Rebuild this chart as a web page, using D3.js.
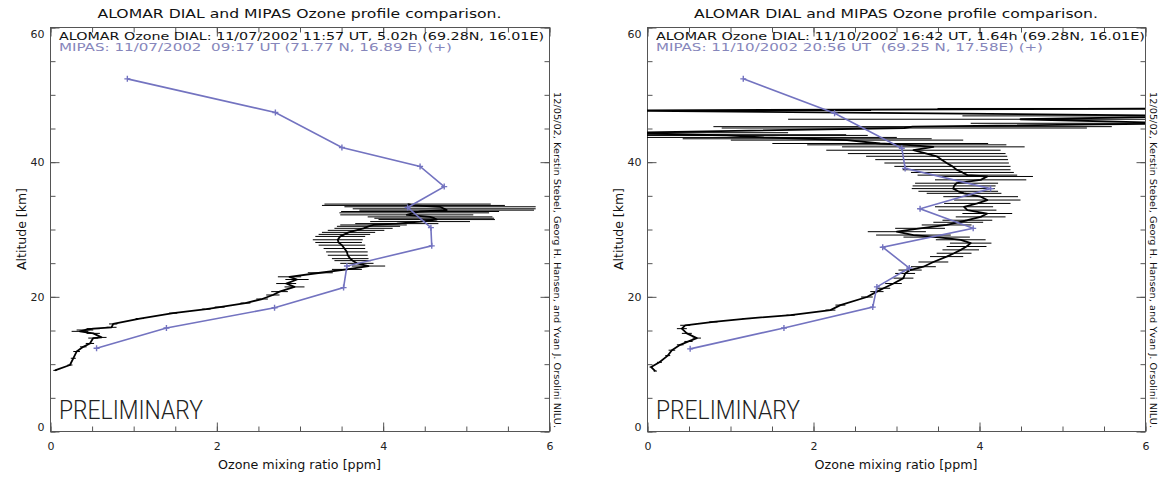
<!DOCTYPE html>
<html>
<head>
<meta charset="utf-8">
<script src="https://cdn.jsdelivr.net/npm/d3@7"></script>
<style>
html, body { margin: 0; padding: 0; background: #fff; }
svg { display: block; font-family: "DejaVu Sans", sans-serif; }
</style>
</head>
<body>
<svg id="chart" width="1165" height="478"></svg>
<script>
"use strict";

// ---- data ----
const titleText = "ALOMAR DIAL and MIPAS Ozone profile comparison.";
const creditText = "12/05/02, Kerstin Stebel, Georg H. Hansen, and Yvan J. Orsolini NILU.";
const xLabelText = "Ozone mixing ratio [ppm]";
const yLabelText = "Altitude [km]";
const xTickLabels = [0, 2, 4, 6];
const yTickLabels = [0, 20, 40, 60];

const leftDialLegend = "ALOMAR Ozone DIAL: 11/07/2002 11:57 UT, 5.02h (69.28N, 16.01E)";
const leftMipasLegend = "MIPAS: 11/07/2002  09:17 UT (71.77 N, 16.89 E) (+)";
const rightDialLegend = "ALOMAR Ozone DIAL: 11/10/2002 16:42 UT, 1.64h (69.28N, 16.01E)";
const rightMipasLegend = "MIPAS: 11/10/2002 20:56 UT  (69.25 N, 17.58E) (+)";

const leftMipasO3 = [0.93, 2.71, 3.51, 4.45, 4.74, 4.30, 4.58, 4.59, 3.57, 3.53, 2.70, 1.40, 0.56];
const leftMipasAlt = [52.3, 47.3, 42.1, 39.3, 36.3, 33.2, 30.2, 27.5, 24.5, 21.3, 18.3, 15.3, 12.3];

const rightMipasO3 = [1.16, 2.26, 3.07, 3.11, 4.14, 3.29, 3.93, 2.84, 3.16, 2.77, 2.72, 1.65, 0.52];
const rightMipasAlt = [52.3, 47.2, 42.0, 39.0, 36.0, 33.0, 30.1, 27.3, 24.2, 21.4, 18.4, 15.3, 12.2];

const leftDialAlt = [9.0, 9.8, 10.8, 11.8, 12.5, 13.0, 13.8, 13.9, 14.5, 14.8, 15.0, 15.2, 15.4, 15.9,
    16.7, 17.5, 18.1, 18.4, 19.0, 19.6, 20.2, 20.7, 21.4, 21.9, 22.5, 22.9, 23.5, 24.0, 24.5,
    24.9, 25.3, 25.6, 26.1, 26.6, 27.1, 27.6, 28.0, 28.4, 28.9, 29.2, 29.5, 29.8, 30.1, 30.4,
    30.6, 30.8, 31.1, 31.4, 31.6, 31.8, 32.1, 32.4, 32.6, 32.8, 33.0, 33.3, 33.5, 33.7];
const leftDialO3 = [0.06, 0.24, 0.28, 0.32, 0.40, 0.48, 0.52, 0.62, 0.52, 0.36, 0.42, 0.52, 0.74, 0.76,
    1.08, 1.48, 1.88, 2.04, 2.35, 2.55, 2.68, 2.76, 2.94, 2.84, 2.97, 2.88, 3.25, 3.57, 3.83,
    3.69, 3.64, 3.61, 3.58, 3.57, 3.54, 3.51, 3.47, 3.46, 3.49, 3.54, 3.59, 3.68, 3.77, 3.83,
    3.89, 4.17, 4.45, 4.65, 4.62, 4.57, 4.29, 4.38, 4.45, 4.77, 4.74, 4.69, 4.37, 4.30];
const leftDialErr = [0.02, 0.03, 0.03, 0.04, 0.04, 0.05, 0.06, 0.06, 0.08, 0.10, 0.10, 0.08, 0.06, 0.05,
    0.05, 0.05, 0.05, 0.06, 0.06, 0.07, 0.08, 0.10, 0.12, 0.12, 0.14, 0.14, 0.15, 0.18, 0.20,
    0.20, 0.22, 0.22, 0.24, 0.25, 0.25, 0.28, 0.28, 0.30, 0.30, 0.31, 0.32, 0.34, 0.35, 0.38,
    0.40, 0.50, 0.60, 0.70, 0.72, 0.75, 0.80, 0.90, 0.95, 1.05, 1.10, 1.15, 1.10, 1.00];

const rightDialAlt = [8.9, 9.5, 10.2, 11.2, 12.0, 12.8, 13.3, 13.8, 14.5, 15.2, 15.7, 16.2, 16.7, 17.2,
    17.95, 18.7, 19.9, 20.7, 21.2, 21.9, 22.7, 23.4, 23.9, 24.4, 25.1, 25.9, 26.4, 26.9, 27.4,
    27.9, 28.4, 28.8, 29.1, 29.6, 30.1, 30.6, 31.0, 31.3, 31.8, 32.3, 32.8, 33.3, 33.8, 34.3,
    34.8, 35.3, 35.6, 36.0, 36.4, 36.8, 37.3, 37.8, 38.0, 38.4, 38.8, 39.3, 39.8, 40.3, 40.8,
    41.2, 41.7, 42.2, 42.5, 42.7, 43.2, 43.4, 43.6, 43.9, 44.0, 44.3, 45.0, 45.2, 45.7, 46.3,
    46.8, 47.6, 47.9];
const rightDialO3 = [0.10, 0.05, 0.15, 0.25, 0.30, 0.40, 0.50, 0.60, 0.48, 0.42, 0.46, 0.80, 1.20, 1.73,
    2.21, 2.33, 2.65, 2.77, 2.85, 2.97, 3.09, 3.11, 3.17, 3.33, 3.45, 3.61, 3.70, 3.78, 3.85,
    3.90, 3.78, 3.49, 3.21, 3.01, 3.29, 3.61, 3.75, 3.86, 4.02, 4.10, 3.86, 3.82, 3.98, 4.10,
    4.02, 3.82, 3.75, 3.69, 3.70, 3.73, 4.02, 4.10, 3.86, 3.80, 3.73, 3.68, 3.61, 3.55, 3.49,
    3.37, 3.21, 3.45, 3.13, 2.81, 2.41, 1.93, 1.41, 0.96, 0.60, -0.30, 3.10, 3.20, 6.50, 4.50,
    6.80, -0.50, 7.00];
const rightDialErr = [0.02, 0.02, 0.03, 0.03, 0.04, 0.04, 0.05, 0.05, 0.06, 0.06, 0.06, 0.05, 0.05, 0.05,
    0.06, 0.06, 0.07, 0.08, 0.08, 0.10, 0.12, 0.12, 0.14, 0.15, 0.18, 0.20, 0.21, 0.22, 0.24,
    0.25, 0.30, 0.40, 0.45, 0.35, 0.30, 0.30, 0.30, 0.30, 0.30, 0.30, 0.35, 0.35, 0.40, 0.40,
    0.45, 0.45, 0.48, 0.50, 0.50, 0.50, 0.55, 0.55, 0.60, 0.62, 0.65, 0.70, 0.75, 0.80, 0.85,
    0.95, 1.05, 1.10, 1.20, 1.30, 1.40, 1.50, 1.60, 1.70, 1.80, 2.00, 2.20, 2.40, 2.60, 2.80,
    3.00, 3.20, 3.50];

// ---- layout ----
const plotTop = 27, plotBottom = 431;
const mipasColor = "#7373c0";
const mipasText = "#8686bb";
const axisColor = "#555";

const panels = [
    {
        x0: 50, x1: 549,
        dialLegend: leftDialLegend, mipasLegend: leftMipasLegend,
        dialLegendLen: 485, mipasLegendLen: 393,
        mipas: leftMipasO3.map((v, i) => ({o3: v, alt: leftMipasAlt[i]})),
        dial: leftDialO3.map((v, i) => ({o3: v, alt: leftDialAlt[i], err: leftDialErr[i]}))
    },
    {
        x0: 647, x1: 1145,
        dialLegend: rightDialLegend, mipasLegend: rightMipasLegend,
        dialLegendLen: 489, mipasLegendLen: 387,
        mipas: rightMipasO3.map((v, i) => ({o3: v, alt: rightMipasAlt[i]})),
        dial: rightDialO3.map((v, i) => ({o3: v, alt: rightDialAlt[i], err: rightDialErr[i]}))
    }
];

const svg = d3.select("#chart");

panels.forEach(function (p, pi) {
    const x = d3.scaleLinear().domain([0, 6]).range([p.x0, p.x1]);
    const y = d3.scaleLinear().domain([0, 60]).range([plotBottom, plotTop]);
    const g = svg.append("g");
    const cx = (p.x0 + p.x1) / 2;

    // clip for data
    const clipId = "clip" + pi;
    svg.append("clipPath").attr("id", clipId)
        .append("rect")
        .attr("x", p.x0).attr("y", plotTop)
        .attr("width", p.x1 - p.x0).attr("height", plotBottom - plotTop);

    // frame
    g.append("rect")
        .attr("x", p.x0 + 0.5).attr("y", plotTop + 0.5)
        .attr("width", p.x1 - p.x0).attr("height", plotBottom - plotTop)
        .attr("fill", "none")
        .attr("stroke", axisColor);

    // ticks on all four sides, pointing inward
    const xMinor = d3.range(0, 6.01, 0.5);
    const yMinor = d3.range(0, 60.1, 5);
    function addAxis(axis, tx, ty) {
        const a = g.append("g")
            .attr("transform", `translate(${tx},${ty})`)
            .call(axis);
        a.select(".domain").remove();
        a.selectAll("line").attr("stroke", axisColor);
        return a;
    }
    addAxis(d3.axisBottom(x).tickValues(xMinor).tickSize(-5).tickFormat(""), 0.5, plotBottom + 0.5);
    addAxis(d3.axisTop(x).tickValues(xMinor).tickSize(-5).tickFormat(""), 0.5, plotTop + 0.5);
    addAxis(d3.axisLeft(y).tickValues(yMinor).tickSize(-5).tickFormat(""), p.x0 + 0.5, 0.5);
    addAxis(d3.axisRight(y).tickValues(yMinor).tickSize(-5).tickFormat(""), p.x1 + 0.5, 0.5);
    addAxis(d3.axisTop(x).tickValues(xTickLabels).tickSize(-9).tickFormat(""), 0.5, plotTop + 0.5);
    addAxis(d3.axisRight(y).tickValues(yTickLabels).tickSize(-9).tickFormat(""), p.x1 + 0.5, 0.5);

    const xa = addAxis(d3.axisBottom(x).tickValues(xTickLabels).tickSize(-9).tickPadding(11)
        .tickFormat(d3.format("d")), 0.5, plotBottom + 0.5);
    xa.selectAll("text").attr("font-size", 11).attr("fill", "#222")
        .attr("font-family", "DejaVu Sans, sans-serif");

    const ya = addAxis(d3.axisLeft(y).tickValues(yTickLabels).tickSize(-9).tickPadding(6)
        .tickFormat(d3.format("d")), p.x0 + 0.5, 0.5);
    ya.selectAll("text").attr("font-size", 11).attr("fill", "#222")
        .attr("font-family", "DejaVu Sans, sans-serif")
        .attr("dy", d => d === 60 ? "0.9em" : (d === 0 ? "-0.05em" : "0.32em"));

    // title
    g.append("text")
        .attr("x", cx).attr("y", 18)
        .attr("text-anchor", "middle")
        .attr("font-size", 12.5)
        .attr("fill", "#111")
        .attr("textLength", 404).attr("lengthAdjust", "spacingAndGlyphs")
        .text(titleText);

    // legend lines
    g.append("text")
        .attr("x", p.x0 + 9).attr("y", 39.5)
        .attr("font-size", 11).attr("fill", "#111")
        .style("white-space", "pre")
        .attr("textLength", p.dialLegendLen).attr("lengthAdjust", "spacingAndGlyphs")
        .text(p.dialLegend);
    g.append("text")
        .attr("x", p.x0 + 9).attr("y", 51)
        .attr("font-size", 11).attr("fill", mipasText)
        .style("white-space", "pre")
        .attr("textLength", p.mipasLegendLen).attr("lengthAdjust", "spacingAndGlyphs")
        .text(p.mipasLegend);

    // axis titles
    g.append("text")
        .attr("x", cx).attr("y", 469)
        .attr("text-anchor", "middle")
        .attr("font-size", 11.5).attr("fill", "#111")
        .attr("textLength", 163).attr("lengthAdjust", "spacingAndGlyphs")
        .text(xLabelText);
    g.append("text")
        .attr("transform", `translate(${p.x0 - 24},${(plotTop + plotBottom) / 2}) rotate(-90)`)
        .attr("text-anchor", "middle")
        .attr("font-size", 11.5).attr("fill", "#111")
        .attr("textLength", 82).attr("lengthAdjust", "spacingAndGlyphs")
        .text(yLabelText);

    // credit along right side
    g.append("text")
        .attr("transform", `translate(${p.x1 + 5},92) rotate(90)`)
        .attr("font-size", 9.5).attr("fill", "#111")
        .attr("textLength", 336).attr("lengthAdjust", "spacingAndGlyphs")
        .text(creditText);

    // PRELIMINARY
    g.append("text")
        .attr("x", p.x0 + 9).attr("y", 419)
        .attr("font-family", "Roboto, sans-serif")
        .attr("font-weight", 300)
        .attr("font-size", 25).attr("fill", "#222")
        .attr("textLength", 144).attr("lengthAdjust", "spacingAndGlyphs")
        .text("PRELIMINARY");

    // data
    const data = g.append("g").attr("clip-path", `url(#${clipId})`);

    // DIAL error bars
    data.selectAll("line.err")
        .data(p.dial)
        .join("line")
        .attr("class", "err")
        .attr("x1", d => x(d.o3 - d.err))
        .attr("x2", d => x(d.o3 + d.err))
        .attr("y1", d => y(d.alt))
        .attr("y2", d => y(d.alt))
        .attr("stroke", "#000")
        .attr("stroke-width", 1);

    // DIAL profile
    data.append("path")
        .datum(p.dial)
        .attr("fill", "none")
        .attr("stroke", "#000")
        .attr("stroke-width", 1.8)
        .attr("stroke-linejoin", "round")
        .attr("d", d3.line().x(d => x(d.o3)).y(d => y(d.alt)));

    // MIPAS profile
    data.append("path")
        .datum(p.mipas)
        .attr("fill", "none")
        .attr("stroke", mipasColor)
        .attr("stroke-width", 1.6)
        .attr("d", d3.line().x(d => x(d.o3)).y(d => y(d.alt)));

    data.selectAll("path.plus")
        .data(p.mipas)
        .join("path")
        .attr("class", "plus")
        .attr("d", d => `M${x(d.o3) - 3},${y(d.alt)}h6M${x(d.o3)},${y(d.alt) - 3}v6`)
        .attr("stroke", mipasColor)
        .attr("stroke-width", 1.4);
});
</script>
</body>
</html>
